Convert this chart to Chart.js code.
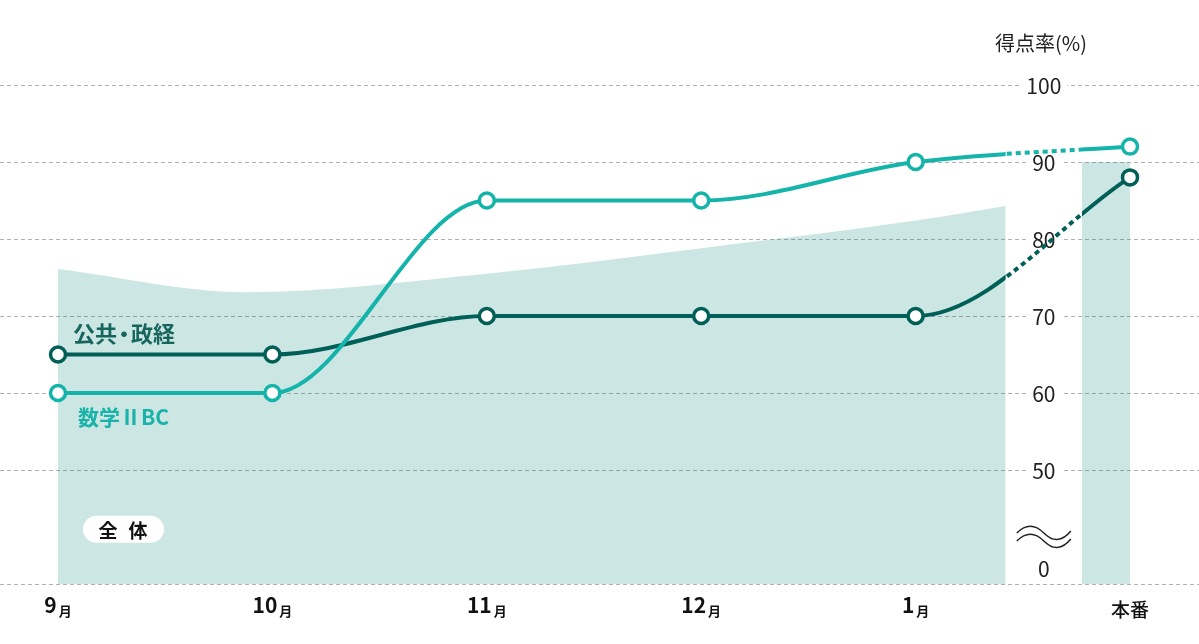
<!DOCTYPE html>
<html lang="ja">
<head>
<meta charset="UTF-8">
<title>得点率の推移</title>
<script src="https://cdn.jsdelivr.net/npm/chart.js"></script>
<style>
    body { margin: 0; background: #fff; }
    canvas { display: block; }
</style>
</head>
<body>
<canvas id="scoreChart" width="1199" height="644"></canvas>
<script>
    // x: 0 = 9月 ... 4 = 1月, 5 = 本番
    const monthLabels = ['9', '10', '11', '12', '1', '本番'];
    const monthX = [0, 1, 2, 3, 4, 5];
    const kokyoValues = [65, 65, 70, 70, 70, 88];    // 公共・政経
    const sugakuValues = [60, 60, 85, 85, 90, 92];   // 数学ⅡBC
    const overallX = [0, 0.87, 2, 3, 4, 4.42];       // 全体
    const overallValues = [76.1, 73.1, 75.5, 78.8, 82.4, 84.3];
    const finalOverallX = [4.776, 5];                 // 全体 (本番)
    const finalOverallValues = [90, 90];
    const yTicks = [50, 60, 70, 80, 90, 100];
    const yBottom = 35.2;      // axis is broken below 50
    const zeroLabelAt = 37.3;  // where "0" is written
    const breakMarkAt = 41.3;

    const darkTeal = '#005f57';
    const teal = '#14b4aa';
    const areaFill = 'rgba(0, 128, 118, 0.2)';
    const jpFont = "'Noto Sans CJK JP', 'Noto Sans', sans-serif";

    const toPoints = (xs, ys) => xs.map((x, i) => ({ x: x, y: ys[i] }));
    const gapStart = overallX[overallX.length - 1];
    const gapEnd = finalOverallX[0];

    function seriesLine(values, color, band) {
        const dotted = band === 'inside';
        return {
            data: toPoints(monthX, values),
            band: band,
            borderColor: color,
            borderWidth: 4,
            borderCapStyle: 'butt',
            borderDash: dotted ? [5, 4] : [],
            cubicInterpolationMode: 'monotone',
            fill: false,
            pointRadius: dotted ? 0 : 7.5,
            pointBorderWidth: 3.5,
            pointBackgroundColor: '#fff',
            pointBorderColor: color
        };
    }

    // clip solid lines outside the gap and dotted lines inside it
    const bandClip = {
        id: 'bandClip',
        beforeDatasetDraw(chart, args) {
            const mode = chart.data.datasets[args.index].band;
            if (!mode) return;
            const { ctx, scales: { x } } = chart;
            const x1 = x.getPixelForValue(gapStart);
            const x2 = x.getPixelForValue(gapEnd);
            ctx.save();
            ctx.beginPath();
            if (mode === 'inside') {
                ctx.rect(x1, 0, x2 - x1, chart.height);
            } else {
                ctx.rect(0, 0, x1, chart.height);
                ctx.rect(x2, 0, chart.width - x2, chart.height);
            }
            ctx.clip();
        },
        afterDatasetDraw(chart, args) {
            if (chart.data.datasets[args.index].band) chart.ctx.restore();
        }
    };

    // y labels sit in the gap between 全体 and the 本番 bar
    const yLabels = {
        id: 'yLabels',
        beforeDatasetsDraw(chart) {
            const { ctx, scales: { x, y } } = chart;
            const cx = (x.getPixelForValue(gapStart) + x.getPixelForValue(gapEnd)) / 2;
            ctx.save();
            ctx.font = '21px ' + jpFont;
            ctx.textAlign = 'center';
            ctx.textBaseline = 'middle';
            const labels = yTicks.map(v => [v, String(v)]).concat([[zeroLabelAt, '0']]);
            labels.forEach(([v, t]) => {
                const py = y.getPixelForValue(v);
                const w = ctx.measureText(t).width + 12;
                ctx.fillStyle = '#fff';
                ctx.fillRect(cx - w / 2, py - 11, w, 22);
                ctx.fillStyle = '#222';
                ctx.fillText(t, cx, py + 1);
            });
            // break mark
            const by = y.getPixelForValue(breakMarkAt);
            ctx.strokeStyle = '#222';
            ctx.lineWidth = 1.5;
            [-4, 4].forEach(off => {
                const wy = by + off;
                ctx.beginPath();
                ctx.moveTo(cx - 27, wy);
                ctx.bezierCurveTo(cx - 18, wy - 9, cx - 9, wy - 9, cx, wy);
                ctx.bezierCurveTo(cx + 9, wy + 9, cx + 18, wy + 9, cx + 27, wy - 2);
                ctx.stroke();
            });
            ctx.restore();
        }
    };

    const annotations = {
        id: 'annotations',
        afterDraw(chart) {
            const { ctx, scales: { x, y } } = chart;
            ctx.save();
            ctx.textBaseline = 'alphabetic';

            // month labels
            monthLabels.forEach((label, i) => {
                const cx = x.getPixelForValue(monthX[i]);
                ctx.fillStyle = '#111';
                if (label === '本番') {
                    ctx.font = '500 19px ' + jpFont;
                    ctx.textAlign = 'center';
                    ctx.fillText(label, cx, 617);
                    return;
                }
                ctx.textAlign = 'left';
                ctx.font = 'bold 21px ' + jpFont;
                const wn = ctx.measureText(label).width;
                ctx.font = 'bold 13px ' + jpFont;
                const wm = ctx.measureText('月').width;
                const left = cx - (wn + 2 + wm) / 2;
                ctx.font = 'bold 21px ' + jpFont;
                ctx.fillText(label, left, 613);
                ctx.font = 'bold 13px ' + jpFont;
                ctx.fillText('月', left + wn + 2, 616);
            });

            // axis title
            ctx.font = '20px ' + jpFont;
            ctx.fillStyle = '#222';
            ctx.textAlign = 'left';
            ctx.textBaseline = 'middle';
            ctx.fillText('得点率(%)', 995, 43);

            // series names (middle dot drawn tight, as in the print)
            ctx.font = 'bold 22px ' + jpFont;
            ctx.fillStyle = '#17665e';
            const ky = y.getPixelForValue(67.7);
            const w1 = ctx.measureText('公共').width;
            ctx.fillText('公共', 73, ky);
            ctx.textAlign = 'center';
            ctx.fillText('・', 73 + w1 + 7, ky);
            ctx.textAlign = 'left';
            ctx.fillText('政経', 73 + w1 + 14, ky);
            ctx.font = 'bold 21px ' + jpFont;
            ctx.fillStyle = '#1ab3aa';
            ctx.fillText('数学ⅡBC', 78, y.getPixelForValue(56.9));

            // 全体 tag
            const py = y.getPixelForValue(42.3);
            ctx.fillStyle = '#fff';
            ctx.beginPath();
            ctx.roundRect(83, py - 13.5, 81, 27, 13.5);
            ctx.fill();
            ctx.fillStyle = '#111';
            ctx.font = 'bold 19px ' + jpFont;
            ctx.textAlign = 'center';
            ctx.fillText('全', 108, py + 1);
            ctx.fillText('体', 138, py + 1);
            ctx.restore();
        }
    };

    const ctx = document.getElementById('scoreChart').getContext('2d');
    new Chart(ctx, {
        type: 'line',
        data: {
            datasets: [
                seriesLine(sugakuValues, teal, 'outside'),
                seriesLine(sugakuValues, teal, 'inside'),
                seriesLine(kokyoValues, darkTeal, 'outside'),
                seriesLine(kokyoValues, darkTeal, 'inside'),
                {
                    data: toPoints(finalOverallX, finalOverallValues),
                    fill: 'start',
                    backgroundColor: areaFill,
                    borderWidth: 0,
                    pointRadius: 0,
                    tension: 0
                },
                {
                    data: toPoints(overallX, overallValues),
                    fill: 'start',
                    backgroundColor: areaFill,
                    borderWidth: 0,
                    pointRadius: 0,
                    cubicInterpolationMode: 'monotone'
                }
            ]
        },
        options: {
            responsive: false,
            animation: false,
            layout: { autoPadding: false, padding: { top: 85, bottom: 60, left: 0, right: 0 } },
            plugins: {
                legend: { display: false },
                tooltip: { enabled: false }
            },
            scales: {
                x: {
                    type: 'linear',
                    min: -0.2705,
                    max: 5.3218,
                    display: false
                },
                y: {
                    min: yBottom,
                    max: 100,
                    position: 'right',
                    ticks: { display: false },
                    grid: { color: '#b0b0b0', lineWidth: 1, drawTicks: false },
                    border: { display: false, dash: [4, 3] },
                    afterBuildTicks(scale) {
                        scale.ticks = [yBottom].concat(yTicks).map(v => ({ value: v }));
                    },
                    afterFit(scale) { scale.width = 0; }
                }
            }
        },
        plugins: [bandClip, yLabels, annotations]
    });
</script>
</body>
</html>
